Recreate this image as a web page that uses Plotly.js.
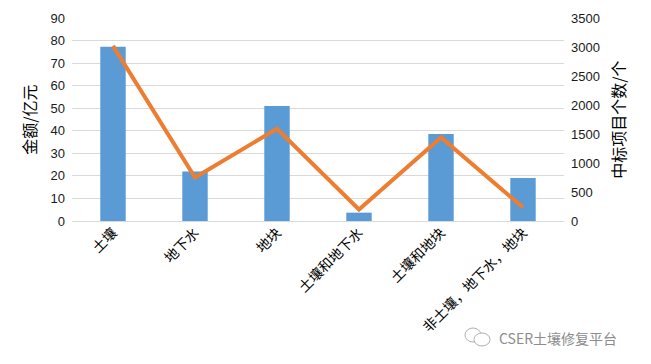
<!DOCTYPE html>
<html>
<head>
<meta charset="utf-8">
<script src="https://cdn.plot.ly/plotly-3.0.1.min.js"></script>
<style>html,body{margin:0;padding:0;background:#fff;}#chart{width:651px;height:364px;}</style>
</head>
<body>
<div id="chart"></div>
<script>
const categories = ["土壤", "地下水", "地块", "土壤和地下水", "土壤和地块", "非土壤，地下水，地块"];
const amounts = [77.3, 21.9, 51.0, 3.7, 38.6, 19.1];        // 金额/亿元
const projectCounts = [3020, 750, 1590, 200, 1440, 235];  // 中标项目个数/个
const leftTitle = "金额/亿元";
const rightTitle = "中标项目个数/个";
const watermark = "CSER土壤修复平台";

const numFont = {family: "Liberation Sans, Arial, sans-serif", size: 13, color: "#1a1a1a"};
const cjk = "Noto Sans CJK SC, sans-serif";

const traces = [
  {type: "bar", x: categories, y: amounts, marker: {color: "#5B9BD5"}, yaxis: "y", hoverinfo: "none"},
  {type: "scatter", mode: "lines", x: categories, y: projectCounts, yaxis: "y2",
   line: {color: "#ED7D31", width: 4}, hoverinfo: "none"}
];

const layout = {
  width: 651, height: 364,
  margin: {l: 72, r: 87, t: 18, b: 143},
  paper_bgcolor: "#fff", plot_bgcolor: "#fff",
  showlegend: false,
  bargap: 0.69,
  xaxis: {
    tickangle: -45, showgrid: false, showline: false, zeroline: false, ticks: "",
    tickfont: {family: cjk, size: 14, color: "#000"}, automargin: false, fixedrange: true
  },
  yaxis: {
    range: [0, 90], dtick: 10, showgrid: true, gridcolor: "#D9D9D9", gridwidth: 1,
    zeroline: true, zerolinecolor: "#D9D9D9", zerolinewidth: 1, showline: false, ticks: "",
    tickfont: numFont, ticklabelstandoff: 6, automargin: false,
    title: {text: leftTitle, font: {family: cjk, size: 16, color: "#000"}, standoff: 9}
  },
  yaxis2: {
    range: [0, 3500], dtick: 500, overlaying: "y", side: "right", showgrid: false,
    zeroline: false, showline: false, ticks: "", tickfont: numFont, ticklabelstandoff: 6,
    automargin: false,
    title: {text: rightTitle, font: {family: cjk, size: 16, color: "#000"}, standoff: 14}
  },
  annotations: [
    {text: watermark, xref: "paper", yref: "paper", x: (497 - 72) / 492, y: (221 - 338) / 203,
     xanchor: "left", yanchor: "middle", showarrow: false,
     font: {family: cjk, size: 14, color: "#8c8c8c"}}
  ],
  shapes: [
    {type: "circle", xref: "paper", yref: "paper", x0: (465 - 72) / 492, x1: (481 - 72) / 492,
     y0: (221 - 342) / 203, y1: (221 - 328) / 203, line: {color: "#b0b0b0", width: 1}},
    {type: "circle", xref: "paper", yref: "paper", x0: (474 - 72) / 492, x1: (490 - 72) / 492,
     y0: (221 - 346) / 203, y1: (221 - 333) / 203, line: {color: "#b0b0b0", width: 1}, fillcolor: "#fff"}
  ]
};

Plotly.newPlot("chart", traces, layout, {staticPlot: true, displayModeBar: false});
</script>
</body>
</html>
